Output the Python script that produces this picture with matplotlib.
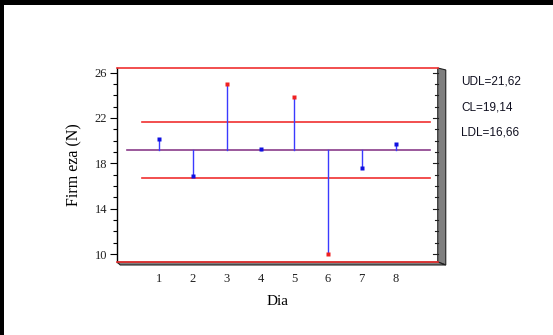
import numpy as np
import matplotlib
matplotlib.use("Agg")
from matplotlib import pyplot as plt
from matplotlib.patches import Rectangle, Polygon
from matplotlib.ticker import MultipleLocator

# data
dias = [1, 2, 3, 4, 5, 6, 7, 8]
firmeza = [20.1, 16.9, 25.0, 19.25, 23.8, 10.0, 17.6, 19.7]
udl = 21.62
cl = 19.14
ldl = 16.66
limit_labels = ["UDL=21,62", "CL=19,14", "LDL=16,66"]
y_ticks = [10, 14, 18, 22, 26]

fig = plt.figure(figsize=(5.53, 3.35), dpi=100)
ax = fig.add_axes([0.2116, 0.218, 0.580, 0.579])

# control limit lines
ax.plot([0.5, 9.03], [udl, udl], color="#f03030", lw=1.2)
ax.plot([0.5, 9.03], [ldl, ldl], color="#f03030", lw=1.2)
ax.plot([0.06, 9.03], [cl, cl], color="#8a3c8a", lw=1.2)

# stems and points
for d, v in zip(dias, firmeza):
    out = v > udl or v < ldl
    ax.plot([d, d], [cl, v], color="#3a3aff", lw=1.0)
    ax.plot(d, v, marker="s", ms=3, color="#f02020" if out else "#1010e0", mec="none")

ax.set_xlim(-0.25, 9.25)
ax.set_ylim(9.3, 26.4)
ax.set_xticks(dias)
ax.set_yticks(y_ticks)
ax.yaxis.set_minor_locator(MultipleLocator(1))
ax.tick_params(axis="x", length=0, pad=8)
ax.tick_params(axis="y", which="major", direction="out", length=5, width=0.8, pad=2)
ax.tick_params(axis="y", which="minor", direction="out", length=3, width=0.8)
for lab in ax.get_xticklabels() + ax.get_yticklabels():
    lab.set_family("Liberation Serif")
    lab.set_fontsize(9)
    lab.set_color("#202020")

ax.spines["top"].set_color("#f03030")
ax.spines["bottom"].set_color("#f03030")
ax.spines["top"].set_linewidth(1.2)
ax.spines["bottom"].set_linewidth(1.2)
ax.spines["right"].set_visible(False)
ax.spines["left"].set_linewidth(1.0)

# right side inward ticks
for v in np.arange(10, 27, 1):
    ln = 0.015 if v % 4 == 2 else 0.01
    ax.plot([1 - ln, 1], [v, v], transform=ax.get_yaxis_transform(), color="#202020",
            lw=0.8, clip_on=False)

# grey 3D frame on right and bottom
tr = ax.transAxes
dx = 8 / (0.580 * 553)
dy = 3 / (0.579 * 335)
ax.add_patch(Polygon([[1, 1], [1 + dx, 1 - 0.01], [1 + dx, -dy], [1, 0]], closed=True,
                     transform=tr, facecolor="#7f7f7f", edgecolor="#202020", lw=0.8, clip_on=False))
ax.add_patch(Polygon([[0, 0], [1, 0], [1 + dx, -dy], [0.01, -dy]], closed=True,
                     transform=tr, facecolor="#7f7f7f", edgecolor="#202020", lw=0.8, clip_on=False))

ax.set_xlabel("Dia", family="Liberation Serif", fontsize=11, labelpad=7)
ax.set_ylabel("Firm eza (N)", family="Liberation Serif", fontsize=11.5, labelpad=9)

for i, t in enumerate(limit_labels):
    fig.text(461 / 553, 1 - (82 + 25 * i) / 335, t, family="Liberation Sans",
             fontsize=8.5, va="center", ha="left", color="#101020")

# black border on top and left of the picture
fig.add_artist(Rectangle((0, 1 - 5 / 335), 1, 5 / 335, transform=fig.transFigure,
                         facecolor="black", edgecolor="none"))
fig.add_artist(Rectangle((0, 0), 4 / 553, 1, transform=fig.transFigure,
                         facecolor="black", edgecolor="none"))

fig.savefig("out.png", dpi=100)
